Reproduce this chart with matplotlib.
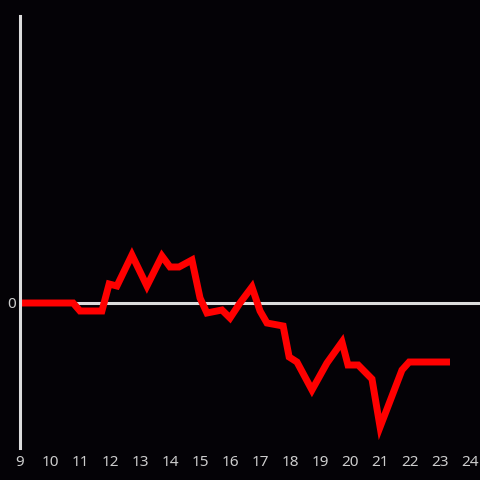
import matplotlib
matplotlib.use("Agg")
import matplotlib.pyplot as plt

# hours of the day and value (0 baseline)
hours = [9.0, 10.77, 11.0, 11.73, 11.97, 12.23, 12.73, 13.23, 13.73, 14.0,
         14.3, 14.73, 15.0, 15.23, 15.73, 16.0, 16.33, 16.73, 17.0, 17.23,
         17.77, 17.97, 18.23, 18.73, 19.23, 19.73, 19.93, 20.27, 20.73, 21.0,
         21.73, 21.97, 23.33]
values = [0.0, 0.0, -0.8, -0.8, 1.9, 1.7, 4.8, 1.7, 4.7, 3.6,
          3.6, 4.3, 0.5, -1.0, -0.7, -1.5, 0.0, 1.6, -0.8, -2.0,
          -2.3, -5.4, -5.9, -8.7, -6.0, -3.9, -6.2, -6.2, -7.6, -12.4,
          -6.7, -5.9, -5.9]
xticks = list(range(9, 25))

bg = "#040206"
fig = plt.figure(figsize=(4.8, 4.8), dpi=100, facecolor=bg)
ax = fig.add_axes([20 / 480, 1 - 448 / 480, 1 - 20 / 480, 432 / 480])
ax.set_facecolor(bg)

ax.axhline(0, color="#dcdcdc", lw=2.2, zorder=1)
ax.plot(hours, values, color="#ff0000", lw=5, solid_joinstyle="miter",
        solid_capstyle="butt", zorder=2)

ax.set_xlim(9, 24.33)
ax.set_ylim(-14.5, 28.7)
ax.set_xticks(xticks)
ax.set_yticks([0])

for s in ["top", "right", "bottom"]:
    ax.spines[s].set_visible(False)
ax.spines["left"].set_color("#dcdcdc")
ax.spines["left"].set_linewidth(2.2)

ax.tick_params(axis="both", length=0, colors="#cccccc", labelsize=11)
ax.tick_params(axis="x", pad=5)
ax.tick_params(axis="y", pad=3)
for lab in ax.get_xticklabels() + ax.get_yticklabels():
    lab.set_family("Noto Sans")

fig.savefig("out.png", dpi=100, facecolor=bg)
